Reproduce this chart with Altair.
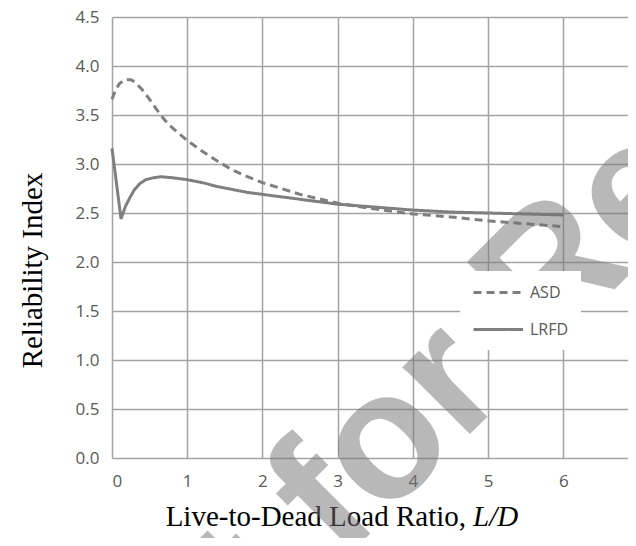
import altair as alt
import pandas as pd

# ---- data ----
series_names = ["ASD", "LRFD"]

asd_x = [0, 0.05, 0.1, 0.15, 0.2, 0.25, 0.3, 0.4, 0.5, 0.6, 0.7, 0.8, 1.0, 1.2,
         1.4, 1.6, 1.8, 2.0, 2.5, 3.0, 3.5, 4.0, 4.5, 5.0, 5.5, 6.0]
asd_y = [3.66, 3.76, 3.82, 3.85, 3.86, 3.86, 3.84, 3.76, 3.66, 3.55, 3.45, 3.37, 3.24, 3.13,
         3.03, 2.94, 2.87, 2.81, 2.69, 2.60, 2.54, 2.49, 2.46, 2.42, 2.39, 2.36]

lrfd_x = [0, 0.06, 0.12, 0.18, 0.24, 0.3, 0.37, 0.45, 0.55, 0.65, 0.8, 1.0, 1.2,
          1.4, 1.6, 1.8, 2.0, 2.5, 3.0, 3.5, 4.0, 4.5, 5.0, 5.5, 6.0]
lrfd_y = [3.16, 2.80, 2.44, 2.57, 2.66, 2.74, 2.80, 2.84, 2.86, 2.87, 2.86, 2.84, 2.81,
          2.77, 2.74, 2.71, 2.69, 2.64, 2.59, 2.56, 2.53, 2.51, 2.50, 2.49, 2.48]

x_ticks = [0, 1, 2, 3, 4, 5, 6]
y_ticks = [0.0, 0.5, 1.0, 1.5, 2.0, 2.5, 3.0, 3.5, 4.0, 4.5]

y_title = "Reliability Index"
x_title_main = "Live-to-Dead Load Ratio,"
x_title_italic = "L/D"
watermark_text = "Not for Resale"

df = pd.concat([
    pd.DataFrame({"ld": asd_x, "beta": asd_y, "series": series_names[0]}),
    pd.DataFrame({"ld": lrfd_x, "beta": lrfd_y, "series": series_names[1]}),
], ignore_index=True)

GRAY = "#7f7f7f"
GRID = "#a3a3a3"
LABEL = "#595959"
W, H = 516, 441

lines = alt.Chart(df).mark_line(color=GRAY, strokeWidth=3).encode(
    x=alt.X("ld:Q",
            scale=alt.Scale(domain=[0, 6.86], nice=False, zero=False),
            axis=alt.Axis(values=x_ticks, format="d", title=None, grid=True,
                          gridColor=GRID, gridWidth=1.5, domain=False, ticks=False,
                          labelPadding=15, labelFont="Open Sans", labelFontSize=17,
                          labelColor=LABEL)),
    y=alt.Y("beta:Q",
            scale=alt.Scale(domain=[0, 4.5], nice=False),
            axis=alt.Axis(values=y_ticks, format=".1f", title=y_title, grid=True,
                          gridColor=GRID, gridWidth=1.5, domain=False, ticks=False,
                          labelPadding=13, labelFont="Open Sans", labelFontSize=17,
                          labelColor=LABEL,
                          titleFont="Liberation Serif", titleFontSize=29,
                          titleFontWeight="normal", titleColor="black",
                          titleX=-80, titleY=253, titleAngle=270,
                          titleAlign="center", titleBaseline="middle")),
    strokeDash=alt.StrokeDash(
        "series:N",
        scale=alt.Scale(domain=series_names, range=[[8, 5], [1, 0]]),
        legend=alt.Legend(title=None, orient="none", legendX=348, legendY=254,
                          fillColor="white", padding=12,
                          symbolType="M-1,0L5.2,0", symbolSize=256,
                          symbolStrokeWidth=3, symbolStrokeColor=GRAY,
                          labelOffset=39, rowPadding=19,
                          labelFont="Open Sans", labelFontSize=16, labelColor=LABEL)),
)

title_df = pd.DataFrame({"a": [x_title_main], "b": [x_title_italic]})
xt1 = alt.Chart(title_df).mark_text(
    font="Liberation Serif", fontSize=29, align="right", baseline="alphabetic",
    color="black").encode(text="a:N", x=alt.value(354), y=alt.value(509))
xt2 = alt.Chart(title_df).mark_text(
    font="Liberation Serif", fontSize=29, fontStyle="italic", align="left",
    baseline="alphabetic", color="black").encode(text="b:N", x=alt.value(361), y=alt.value(509))

wm_df = pd.DataFrame({"t": [watermark_text]})
wm = alt.Chart(wm_df).mark_text(
    font="Liberation Sans", fontSize=180, fontWeight="bold", angle=315, align="center",
    baseline="alphabetic", color="#747474", opacity=0.5).encode(
    text="t:N", x=alt.value(413), y=alt.value(362))

chart = alt.layer(lines, xt1, xt2, wm).properties(
    width=W, height=H,
    autosize=alt.AutoSizeParams(type="none"),
    padding={"left": 104, "top": 9, "right": 0, "bottom": 80},
    background="white",
).configure_view(stroke=None)

chart.save("out.html", embed_options={"renderer": "svg", "actions": False})
